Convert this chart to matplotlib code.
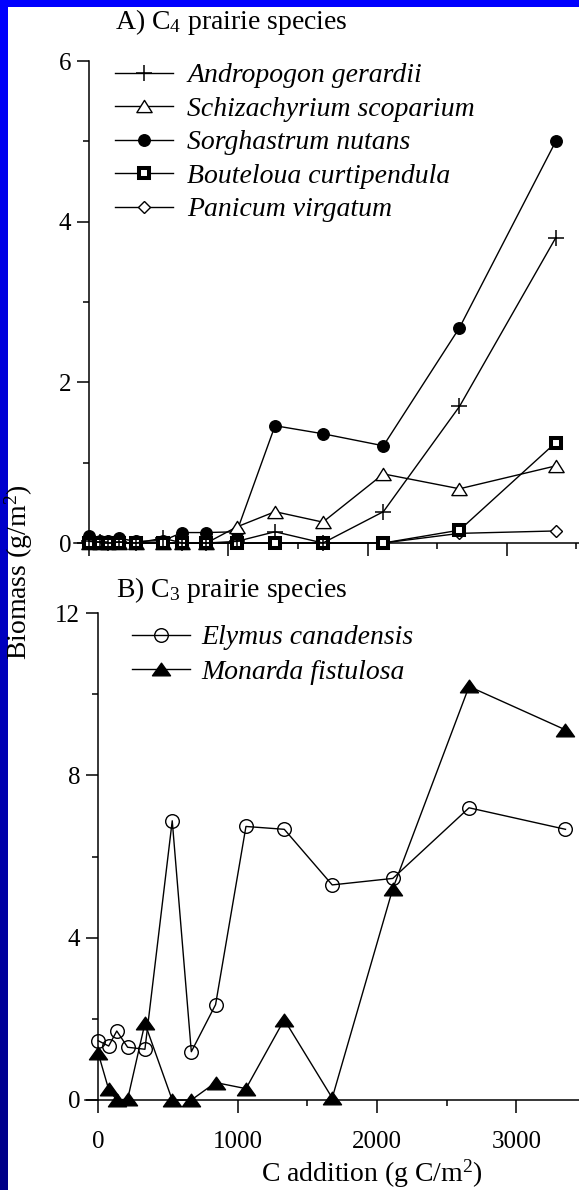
import numpy as np
import matplotlib
matplotlib.use("Agg")
import matplotlib.pyplot as plt
from matplotlib.patches import Rectangle
from matplotlib.path import Path
from matplotlib.ticker import FixedLocator, NullFormatter

plt.rcParams['font.family'] = ['Liberation Serif', 'DejaVu Serif']
plt.rcParams['mathtext.fontset'] = 'custom'
plt.rcParams['mathtext.rm'] = 'Liberation Serif'
plt.rcParams['mathtext.it'] = 'Liberation Serif:italic'

# ---------------- data ----------------
c_addition = [0, 75, 133, 211, 335, 531, 668, 842, 1060, 1335, 1679, 2114, 2661, 3353]

andropogon   = [0.02, 0.01, 0.0, 0.01, 0.0, 0.06, 0.0, 0.0, 0.02, 0.14, 0.0, 0.39, 1.70, 3.80]
schizachyrium = [0.0, 0.0, 0.0, 0.0, 0.0, 0.0, 0.0, 0.0, 0.20, 0.39, 0.26, 0.86, 0.675, 0.96]
sorghastrum  = [0.09, 0.03, 0.03, 0.06, 0.02, 0.03, 0.13, 0.13, 0.14, 1.46, 1.36, 1.21, 2.68, 5.00]
bouteloua    = [0.0, 0.0, 0.0, 0.0, 0.0, 0.0, 0.0, 0.0, 0.0, 0.0, 0.0, 0.0, 0.16, 1.25]
panicum      = [0.0, 0.0, 0.0, 0.0, 0.0, 0.0, 0.0, 0.0, 0.0, 0.0, 0.0, 0.0, 0.12, 0.15]

elymus  = [1.46, 1.33, 1.70, 1.30, 1.25, 6.88, 1.19, 2.35, 6.74, 6.67, 5.30, 5.46, 7.20, 6.67]
monarda = [1.15, 0.26, 0.0, 0.02, 1.89, 0.0, 0.0, 0.43, 0.28, 1.98, 0.05, 5.21, 10.19, 9.12]

top_yticks = [0, 2, 4, 6]
top_yminor = [1, 3, 5]
bot_yticks = [0, 4, 8, 12]
bot_yminor = [2, 6, 10]
xticks_major = [0, 1000, 2000, 3000]
xticks_minor = [500, 1500, 2500, 3500]

W, H = 579, 1190
fig = plt.figure(figsize=(W / 100, H / 100), dpi=100)

# background: blue gradient with white panel
bg = fig.add_axes([0, 0, 1, 1], zorder=-10)
grad = np.linspace(1.0, 0.53, 256)
img = np.zeros((256, 1, 3))
img[:, 0, 2] = grad
bg.imshow(img, aspect='auto', extent=[0, 1, 0, 1], origin='upper')
bg.add_patch(Rectangle((8 / W, 0), 1 - 8 / W, 1 - 7 / H, color='white', lw=0))
bg.set_xlim(0, 1)
bg.set_ylim(0, 1)
bg.axis('off')

FS_TICK = 18
FS_TXT = 20
LW = 1.0
SPW = 1.1


def flat_triangle(h):
    return Path([(-1, -h), (1, -h), (0, h), (-1, -h)],
                [Path.MOVETO, Path.LINETO, Path.LINETO, Path.CLOSEPOLY])


tri_open = flat_triangle(0.8)
tri_fill = flat_triangle(0.7)


def style_axis(ax, ymaj, ymin_):
    for s in ['top', 'right']:
        ax.spines[s].set_visible(False)
    ax.spines['left'].set_position(('data', 0))
    ax.spines['left'].set_linewidth(SPW)
    ax.spines['bottom'].set_linewidth(SPW)
    ax.xaxis.set_major_locator(FixedLocator(xticks_major))
    ax.xaxis.set_minor_locator(FixedLocator(xticks_minor))
    ax.yaxis.set_major_locator(FixedLocator(ymaj))
    ax.yaxis.set_minor_locator(FixedLocator(ymin_))
    ax.tick_params(which='major', direction='out', length=9, width=SPW,
                   labelsize=FS_TICK, pad=4)
    ax.tick_params(which='minor', direction='out', length=4.5, width=SPW)
    ax.patch.set_alpha(0)


# ---------------- panel A ----------------
ax1 = fig.add_axes([74 / W, (H - 543) / H, (W - 74) / W, (543 - 61) / H])
ax1.set_xlim(-110, 3520)
ax1.set_ylim(0, 6)
style_axis(ax1, top_yticks, top_yminor)
ax1.xaxis.set_major_formatter(NullFormatter())

common = dict(color='black', lw=LW, clip_on=False)
ax1.plot(c_addition, andropogon, marker='+', ms=12, mew=1.1,
         label='Andropogon gerardii', zorder=6, **common)
ax1.plot(c_addition, schizachyrium, marker=tri_open, ms=11, mew=1.0,
         mfc='white', mec='black', label='Schizachyrium scoparium', zorder=3, **common)
ax1.plot(c_addition, sorghastrum, marker='o', ms=8.3, mfc='black', mec='black',
         label='Sorghastrum nutans', zorder=2, **common)
ax1.plot(c_addition, bouteloua, marker='s', ms=6.5, mew=2.9, mfc='white',
         mec='black', label='Bouteloua curtipendula', zorder=5, **common)
ax1.plot(c_addition, panicum, marker='D', ms=6.5, mew=1.0, mfc='white',
         mec='black', label='Panicum virgatum', zorder=4, **common)

leg1 = ax1.legend(loc='upper left', bbox_to_anchor=(115 / W, 1 - 63 / H),
                  bbox_transform=fig.transFigure, frameon=False,
                  prop={'family': 'Liberation Serif', 'style': 'italic', 'size': FS_TXT},
                  handlelength=2.1, handletextpad=0.5, labelspacing=0.29,
                  borderpad=0, borderaxespad=0)

fig.text(115 / W, 1 - 22 / H, r'A) C$_4$ prairie species', fontsize=FS_TXT,
         ha='left', va='center')

# ---------------- panel B ----------------
ax2 = fig.add_axes([85 / W, (H - 1100) / H, (W - 85) / W, (1100 - 613) / H])
ax2.set_xlim(-95, 3450)
ax2.set_ylim(0, 12)
style_axis(ax2, bot_yticks, bot_yminor)
ax2.tick_params(axis='x', which='major', pad=13)

ax2.plot(c_addition, elymus, marker='o', ms=9.8, mew=1.0, mfc='none', mec='black',
         label='Elymus canadensis', zorder=3, **common)
ax2.plot(c_addition, monarda, marker=tri_fill, ms=13,
         mfc='black', mec='black', label='Monarda fistulosa', zorder=4, **common)

leg2 = ax2.legend(loc='upper left', bbox_to_anchor=(132 / W, 1 - 625 / H),
                  bbox_transform=fig.transFigure, frameon=False,
                  prop={'family': 'Liberation Serif', 'style': 'italic', 'size': FS_TXT},
                  handlelength=2.1, handletextpad=0.4, labelspacing=0.33,
                  borderpad=0, borderaxespad=0)

fig.text(116 / W, 1 - 590 / H, r'B) C$_3$ prairie species', fontsize=FS_TXT,
         ha='left', va='center')

fig.text(19 / W, 1 - 572 / H, r'Biomass (g/m$^2$)', fontsize=FS_TXT,
         rotation=90, ha='center', va='center')
fig.text(372 / W, 1 - 1174 / H, r'C addition (g C/m$^2$)', fontsize=FS_TXT,
         ha='center', va='center')

fig.savefig('out.png', dpi=100)
